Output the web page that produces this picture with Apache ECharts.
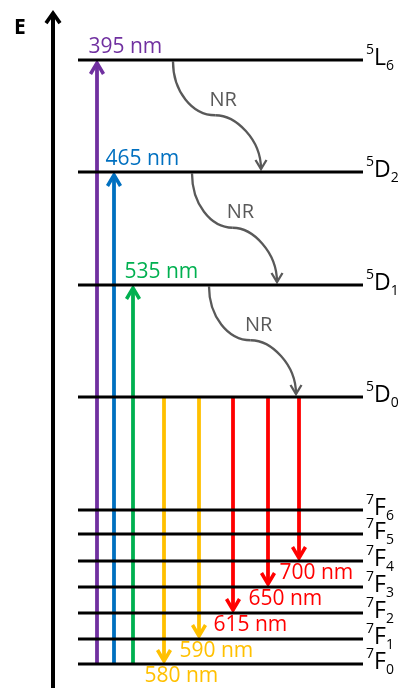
<!DOCTYPE html>
<html><head><meta charset="utf-8">
<script src="https://cdn.jsdelivr.net/npm/echarts@6/dist/echarts.min.js"></script>
<style>html,body{margin:0;padding:0;background:#fff}#c{width:401px;height:688px}</style>
</head><body><div id="c"></div>
<script>
// ---- Energy levels (diagram energy units, 7F0 = 0; diagram is not to scale) ----
const levelSup    = ['5','5','5','5','7','7','7','7','7','7','7'];
const levelLetter = ['L','D','D','D','F','F','F','F','F','F','F'];
const levelSub    = ['6','2','1','0','6','5','4','3','2','1','0'];
const levelEnergy = [604, 492, 379, 267, 154, 130, 103, 77, 51, 25, 0];

// ---- Radiative transitions ----
const wavelengths = [395, 465, 535, 580, 590, 615, 650, 700];          // nm
const transPos    = [44, 61, 80, 111, 146, 180, 215, 246];             // diagram x units
const transFrom   = ['7F0','7F0','7F0','5D0','5D0','5D0','5D0','5D0'];
const transTo     = ['5L6','5D2','5D1','7F0','7F1','7F2','7F3','7F4'];

// ---- Non-radiative relaxations ----
const nrFrom     = ['5L6','5D2','5D1'];
const nrTo       = ['5D2','5D1','5D0'];
const nrStartPos = [120, 139, 156];
const nrEndPos   = [208, 224, 243];

// ---- styles ----
const FONT = 'Open Sans';
const transColor = ['#7030A0','#0070C0','#00B050','#FFC000','#FFC000','#FF0000','#FF0000','#FF0000'];
const NR_COLOR = '#595959';
const LEVEL_X0 = 25, LEVEL_X1 = 310;

const levelKeys = levelEnergy.map((e, i) => levelSup[i] + levelLetter[i] + levelSub[i]);
const energyOf = k => levelEnergy[levelKeys.indexOf(k)];

function chevron(tip, dir, half, len) {
  // dir: +1 pointing down, -1 pointing up (pixel y)
  return [[tip[0] - half, tip[1] - dir * len], [tip[0], tip[1]], [tip[0] + half, tip[1] - dir * len]];
}

const chart = echarts.init(document.getElementById('c'), null, {renderer: 'canvas'});
const option = {
  animation: false,
  backgroundColor: '#fff',
  title: {text: 'E', left: 14, top: 18, padding: 0,
    textStyle: {fontSize: 21, fontWeight: 'bold', fontFamily: FONT, color: '#000'}},
  grid: {left: 53, right: 0, top: 20, bottom: 0, containLabel: false, outerBoundsMode: 'none'},
  xAxis: {type: 'value', min: 0, max: 348, show: false},
  yAxis: {type: 'value', min: -24, max: 644,
    axisLine: {show: true, onZero: false,
      symbol: ['none', 'path://M8.5,0 L17,12 L14,14.2 L10.5,9.3 L10.5,20 L6.5,20 L6.5,9.3 L3,14.2 L0,12 Z'],
      symbolSize: [17, 20], lineStyle: {color: '#000', width: 4}},
    axisTick: {show: false}, axisLabel: {show: false}, splitLine: {show: false}},
  series: [
    { // non-radiative relaxations
      type: 'custom', coordinateSystem: 'cartesian2d', z: 2,
      encode: {x: [0, 2], y: [1, 3]},
      data: nrFrom.map((f, i) => [nrStartPos[i], energyOf(f), nrEndPos[i], energyOf(nrTo[i])]),
      renderItem(params, api) {
        const p0 = api.coord([api.value(0), api.value(1)]);
        const p1raw = api.coord([api.value(2), api.value(3)]);
        const s = [p0[0], p0[1] + 1.5];
        const e = [p1raw[0], p1raw[1] - 3];
        const dx = e[0] - s[0], dy = e[1] - s[1];
        const m = [s[0] + 0.48 * dx, s[1] + 0.5 * dy];
        const lab = api.coord([api.value(0) + 0.57 * (api.value(2) - api.value(0)),
                               api.value(1) + 0.36 * (api.value(3) - api.value(1))]);
        const st = {stroke: NR_COLOR, lineWidth: 2.3, fill: null};
        return {type: 'group', children: [
          {type: 'bezierCurve', shape: {x1: s[0], y1: s[1], x2: m[0], y2: m[1],
            cpx1: s[0], cpy1: s[1] + 0.55 * (m[1] - s[1]), cpx2: m[0] - 0.55 * (m[0] - s[0]), cpy2: m[1]}, style: st},
          {type: 'bezierCurve', shape: {x1: m[0], y1: m[1], x2: e[0], y2: e[1],
            cpx1: m[0] + 0.45 * (e[0] - m[0]), cpy1: m[1], cpx2: e[0], cpy2: m[1] + 0.45 * (e[1] - m[1])}, style: st},
          {type: 'polyline', shape: {points: chevron(e, 1, 5.5, 9)}, style: {stroke: NR_COLOR, lineWidth: 2.3, fill: null}},
          {type: 'text', style: {text: 'NR', x: lab[0], y: lab[1], align: 'center', verticalAlign: 'middle',
            fontSize: 20, fontFamily: FONT, fill: NR_COLOR}}
        ]};
      }
    },
    { // radiative transitions
      type: 'custom', coordinateSystem: 'cartesian2d', z: 2,
      encode: {x: 0, y: [1, 2]},
      data: wavelengths.map((w, i) => [transPos[i], energyOf(transFrom[i]), energyOf(transTo[i])]),
      renderItem(params, api) {
        const i = params.dataIndex;
        const a = api.coord([api.value(0), api.value(1)]);
        const b = api.coord([api.value(0), api.value(2)]);
        const dir = b[1] > a[1] ? 1 : -1;
        const tip = [b[0], b[1] - dir * 3];
        const c = transColor[i];
        const up = dir < 0;
        return {type: 'group', children: [
          {type: 'line', shape: {x1: a[0], y1: a[1] + dir * 1, x2: tip[0], y2: tip[1] - dir * 1},
            style: {stroke: c, lineWidth: 3.8}},
          {type: 'polyline', shape: {points: chevron(tip, dir, 6.5, 11)}, style: {stroke: c, lineWidth: 3.5, fill: null}},
          {type: 'text', style: {text: wavelengths[i] + ' nm',
            x: b[0] + (up ? -8.5 : -19.5), y: b[1] + (up ? -12.5 : 12.5),
            align: 'left', verticalAlign: 'middle', fontSize: 21, fontFamily: FONT, fill: c}}
        ]};
      }
    },
    { // energy levels
      type: 'custom', coordinateSystem: 'cartesian2d', z: 3,
      encode: {x: [0, 2], y: 1},
      data: levelEnergy.map(e => [LEVEL_X0, e, LEVEL_X1]),
      renderItem(params, api) {
        const i = params.dataIndex;
        const p0 = api.coord([api.value(0), api.value(1)]);
        const p1 = api.coord([api.value(2), api.value(1)]);
        return {type: 'group', children: [
          {type: 'line', shape: {x1: p0[0], y1: p0[1], x2: p1[0], y2: p1[1]}, style: {stroke: '#000', lineWidth: 3}},
          {type: 'text', style: {
            text: '{sup|' + levelSup[i] + '}{main|' + levelLetter[i] + '}{sub|' + levelSub[i] + '}',
            x: p1[0] + 3, y: p1[1] - 2, align: 'left', verticalAlign: 'middle', fill: '#000',
            rich: {
              sup: {fontSize: 14, lineHeight: 19, verticalAlign: 'top', fontFamily: FONT, fill: '#000'},
              main: {fontSize: 23, lineHeight: 30, verticalAlign: 'middle', fontFamily: FONT, fill: '#000'},
              sub: {fontSize: 14, lineHeight: 13, verticalAlign: 'bottom', fontFamily: FONT, fill: '#000'}
            }}}
        ]};
      }
    }
  ]
};
chart.setOption(option);
</script></body></html>
